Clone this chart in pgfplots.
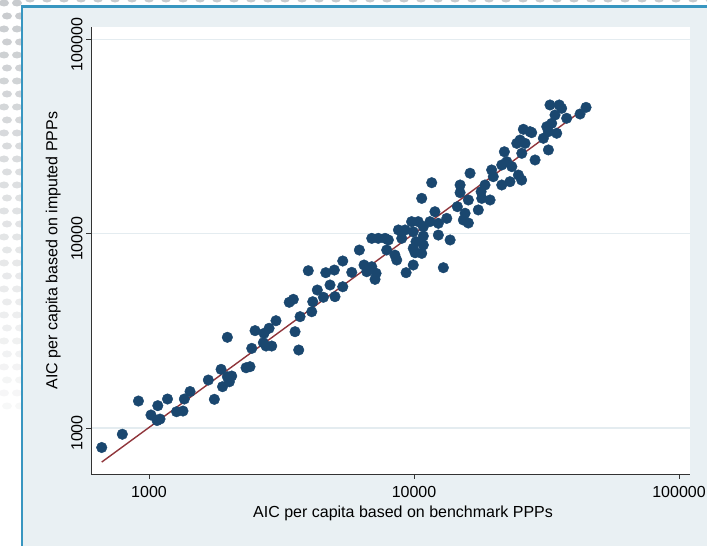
\documentclass[border=0pt]{standalone}
\usepackage{pgfplots}
\pgfplotsset{compat=1.18}
\usepackage{fontspec}
\setmainfont{Liberation Sans}
\definecolor{navy}{RGB}{26,71,111}
\definecolor{maroon}{RGB}{144,53,59}
\definecolor{bgcol}{RGB}{233,240,243}
\definecolor{gridcol}{RGB}{228,236,240}
\definecolor{bordercol}{RGB}{56,150,192}
\definecolor{dotgray}{RGB}{200,203,206}
\begin{document}
\begin{tikzpicture}
\path[use as bounding box] (0,0) rectangle (707pt,546pt);
\clip (0,0) rectangle (707pt,546pt);
% decorative dot pattern outside the frame
\foreach \r in {0,...,31} {
  \pgfmathsetmacro{\op}{max(0,1-\r/36)}
  \foreach \c in {0,1} {
    \fill[dotgray, opacity=\op] ({\c*13pt+4pt+mod(\r,2)*3pt},{546pt-\r*13pt-3pt}) ellipse (5pt and 3.5pt);
  }
}
\foreach \c in {0,...,54} {
  \fill[dotgray] ({\c*17pt+30pt},{547pt}) ellipse (5pt and 3.5pt);
}
% outer frame
\fill[bgcol] (22pt,-5pt) rectangle (715pt,539.5pt);
\draw[bordercol, line width=2.6pt] (22pt,-5pt) -- (22pt,539.5pt) -- (715pt,539.5pt);
\begin{axis}[
  at={(91pt,72pt)}, anchor=south west,
  scale only axis, width=599pt, height=447pt,
  xmode=log, ymode=log,
  xmin=604, xmax=110000, ymin=580, ymax=115800,
  axis background/.style={fill=white},
  axis x line*=bottom, axis y line*=left,
  axis line style={-, draw=black!80, line width=0.8pt},
  xtick={1000,10000,100000}, xticklabels={1000,10000,100000},
  ytick={1000,10000,100000}, yticklabels={1000,10000,100000},
  tick align=outside, major tick length=5pt, minor tick length=0pt,
  tick style={black!80, line width=0.8pt},
  ymajorgrids, grid style={gridcol, line width=1.5pt},
  every tick label/.append style={font=\fontsize{16}{19}\selectfont, text=black},
  xticklabel style={yshift=-4pt},
  yticklabel style={rotate=90, anchor=south, xshift=-5pt},
  label style={font=\fontsize{16}{19}\selectfont, text=black},
  xlabel={AIC per capita based on benchmark PPPs},
  ylabel={AIC per capita based on imputed PPPs},
  xlabel style={at={(axis description cs:0.521,-0.0984)}, anchor=base},
  ylabel style={at={(axis description cs:-0.0560,0.5)}, anchor=base},
  clip=false,
]
\addplot[only marks, mark=*, mark size=5.3pt, draw=navy, fill=navy] coordinates {
(663,794) (793,929) (912,1377) (1017,1167) (1079,1303) (1072,1093) (1100,1112)
(1174,1410) (1270,1213) (1343,1223) (1359,1410) (1428,1541) (1674,1766) (1764,1405)
(1870,2004) (1894,1632) (1975,1836) (2051,1852) (2010,1730) (1975,2930) (2323,2042)
(2404,2068) (2441,2570) (2512,3170) (2716,3070) (2700,2748) (2764,2642) (2904,2642)
(2838,3260) (3013,3565) (3381,4436) (3504,4594) (3556,3131) (3672,2520) (3715,3741)
(3990,6450) (4147,4467) (4111,3968) (4315,5130) (4550,4708) (4644,6300) (4819,5445)
(5003,6500) (5032,4742) (5383,7235) (5383,5333) (5821,6324) (6218,8240) (6475,6900)
(6630,6373) (6925,9464) (7190,6254) (7125,5821) (7330,9464) (7775,9464) (7886,8240)
(6925,6761) (11660,18300) (10690,15200) (14920,17810) (14920,16260)
(14570,13770) (11990,12970) (13290,11990) (15350,11760) (16030,11350) (12350,11310)
(11480,11530) (9790,11530) (10370,11530) (10840,10860) (8730,10450) (9250,10450)
(9930,10230) (12350,9840) (10840,9727) (8000,9283) (8986,9464) (13680,9283)
(10170,9100) (10840,8750) (9930,8410) (8470,7760) (10090,7980) (10690,7920)
(8604,7320) (9930,6900) (9333,6300) (12900,6683) (25850,34450) (27390,33500)
(25120,30340) (24410,29170) (26240,29170) (25500,25920) (28620,23950) (21920,26400)
(22390,23480) (21430,22570) (23390,22130) (16270,20470) (19630,21280) (19910,19650)
(24760,20040) (18530,17810) (21430,17810) (23010,18520) (17910,16450) (16030,14910)
(18010,15200) (19360,14910) (15580,12740) (17480,13250) (32590,45960) (35320,45960)
(34040,40820) (36060,44160) (44570,44670) (42310,41300) (37670,39260) (33080,36990)
(31680,35540) (32140,33500) (27800,33110) (34550,32870) (30760,30970) (32140,26980)
(25470,18880)
};
\addplot[maroon, line width=1.4pt] coordinates {(663,668) (44570,44570)};
\end{axis}
\end{tikzpicture}
\end{document}
